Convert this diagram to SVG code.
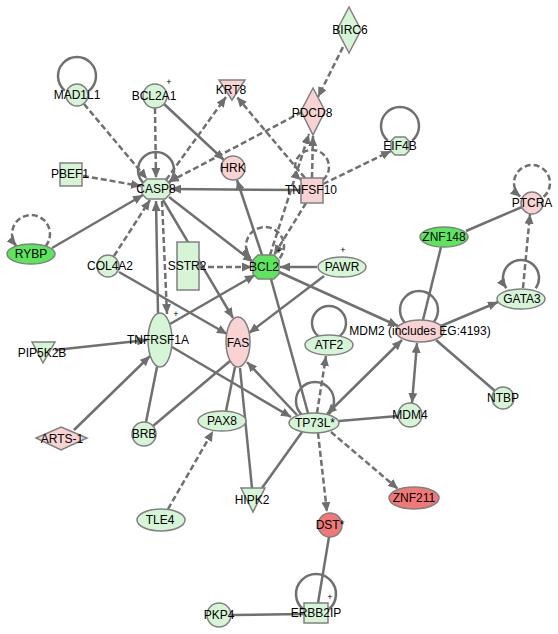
<svg xmlns="http://www.w3.org/2000/svg" width="558" height="634" viewBox="0 0 558 634">
<defs>
<marker id="a" markerUnits="userSpaceOnUse" markerWidth="10" markerHeight="9" refX="10" refY="4.5" orient="auto-start-reverse"><path d="M0,0 L10,4.5 L0,9 z" fill="#6e6e6e"/></marker>
</defs>
<style>
.e{stroke:#707070;stroke-width:2.5;fill:none}
.d{stroke-dasharray:6,3}
.lg{fill:#d6f5d6;stroke:#808080;stroke-width:1.5}
.bg{fill:#5ce65c;stroke:#808080;stroke-width:1.5}
.pk{fill:#f9d3d3;stroke:#808080;stroke-width:1.5}
.rd{fill:#f27878;stroke:#808080;stroke-width:1.5}
text{font-family:"Liberation Sans",Arial,sans-serif;font-size:12px;fill:#000;text-anchor:middle}
.p{font-size:9px}
</style>
<rect width="558" height="634" fill="#fff"/>
<g id="edges">
<line class="e d" x1="84" y1="104" x2="147" y2="179" marker-end="url(#a)"/>
<line class="e d" x1="155" y1="108" x2="156" y2="178" marker-end="url(#a)"/>
<line class="e" x1="164" y1="104" x2="224" y2="160" marker-end="url(#a)"/>
<line class="e d" x1="166" y1="180" x2="226" y2="97" marker-end="url(#a)"/>
<line class="e d" x1="305" y1="178" x2="237" y2="97" marker-end="url(#a)"/>
<line class="e d" x1="343" y1="47" x2="318" y2="97" marker-end="url(#a)"/>
<line class="e d" x1="302" y1="112" x2="169" y2="182" marker-end="url(#a)"/>
<line class="e d" x1="312" y1="178" x2="313" y2="136" marker-end="url(#a)"/>
<line class="e d" x1="270" y1="255" x2="309" y2="134" marker-end="url(#a)"/>
<line class="e d" x1="306" y1="203" x2="274" y2="255" marker-end="url(#a)"/>
<line class="e" x1="301" y1="190" x2="171" y2="189" marker-end="url(#a)"/>
<line class="e d" x1="323" y1="184" x2="391" y2="151" marker-end="url(#a)"/>
<line class="e d" x1="83" y1="176" x2="141" y2="186" marker-end="url(#a)"/>
<line class="e" x1="52" y1="248" x2="143" y2="195" marker-end="url(#a)"/>
<line class="e d" x1="114" y1="256" x2="150" y2="200" marker-end="url(#a)"/>
<line class="e" x1="158" y1="313" x2="156" y2="201" marker-end="url(#a)"/>
<line class="e d" x1="162" y1="201" x2="167" y2="314" marker-end="url(#a)"/>
<line class="e" x1="163" y1="200" x2="233" y2="318" marker-end="url(#a)"/>
<line class="e" x1="169" y1="197" x2="253" y2="262" marker-end="url(#a)"/>
<line class="e d" x1="199" y1="267" x2="252" y2="267" marker-end="url(#a)"/>
<line class="e" x1="262" y1="255" x2="237" y2="180" marker-end="url(#a)"/>
<line class="e" x1="317" y1="267" x2="280" y2="267" marker-end="url(#a)"/>
<line class="e" x1="324" y1="276" x2="249" y2="333" marker-end="url(#a)"/>
<line class="e" x1="279" y1="272" x2="398" y2="326" marker-end="url(#a)"/>
<line class="e" x1="271" y1="279" x2="308" y2="413"/>
<line class="e" x1="170" y1="324" x2="255" y2="275" marker-end="url(#a)"/>
<line class="e" x1="119" y1="272" x2="227" y2="334" marker-end="url(#a)"/>
<line class="e" x1="172" y1="347" x2="291" y2="417" marker-end="url(#a)"/>
<line class="e" x1="55" y1="350" x2="147" y2="340" marker-end="url(#a)"/>
<line class="e" x1="74" y1="430" x2="150" y2="356" marker-end="url(#a)"/>
<line class="e" x1="146" y1="422" x2="157" y2="367"/>
<line class="e" x1="153" y1="426" x2="230" y2="361"/>
<line class="e" x1="235" y1="367" x2="226" y2="411"/>
<line class="e" x1="240" y1="368" x2="252" y2="488"/>
<line class="e" x1="297" y1="415" x2="247" y2="362" marker-end="url(#a)"/>
<line class="e d" x1="168" y1="509" x2="213" y2="431" marker-end="url(#a)"/>
<line class="e d" x1="317" y1="413" x2="326" y2="356" marker-end="url(#a)"/>
<line class="e" x1="327" y1="414" x2="402" y2="340" marker-start="url(#a)" marker-end="url(#a)"/>
<line class="e" x1="339" y1="421" x2="398" y2="416"/>
<line class="e" x1="417" y1="343" x2="412" y2="403" marker-start="url(#a)" marker-end="url(#a)"/>
<line class="e" x1="436" y1="340" x2="495" y2="391"/>
<line class="e" x1="441" y1="326" x2="498" y2="302" marker-end="url(#a)"/>
<line class="e" x1="441" y1="247" x2="423" y2="320"/>
<line class="e" x1="466" y1="231" x2="522" y2="207"/>
<line class="e d" x1="523" y1="288" x2="530" y2="214" marker-end="url(#a)"/>
<line class="e" x1="302" y1="432" x2="262" y2="488"/>
<line class="e d" x1="318" y1="433" x2="327" y2="512" marker-end="url(#a)"/>
<line class="e d" x1="331" y1="432" x2="398" y2="489" marker-end="url(#a)"/>
<line class="e" x1="329" y1="537" x2="318" y2="603"/>
<line class="e" x1="304" y1="614" x2="231" y2="615"/>
<path class="e" d="M89.2,90.6 A19 19 0 1 0 64.8,90.6"/>
<path class="e" d="M167.6,183.8 A18 18 0 1 0 144.4,183.8"/>
<path class="e" d="M412.2,140.6 A19 19 0 1 0 387.8,140.6"/>
<path class="e d" d="M322.9,180 A17 17 0 1 0 301.1,180" marker-end="url(#a)"/>
<path class="e d" d="M45.6,246.2 A19 19 0 1 0 16.4,246.2" marker-end="url(#a)"/>
<path class="e d" d="M279.6,258.2 A19 19 0 1 0 250.4,258.2" marker-end="url(#a)"/>
<path class="e d" d="M543.6,196.8 A18 18 0 1 0 520.4,196.8" marker-end="url(#a)"/>
<path class="e" d="M535.7,288.3 A18 18 0 1 0 506.3,288.3" marker-end="url(#a)"/>
<path class="e" d="M431.2,324.6 A19 19 0 1 0 406.8,324.6"/>
<path class="e" d="M339.9,336 A17 17 0 1 0 318.1,336"/>
<path class="e" d="M327.2,415.6 A19 19 0 1 0 302.8,415.6"/>
<path class="e" d="M328.9,609.3 A20 20 0 1 0 303.1,609.3"/>
</g>
<g id="MAD1L1"><circle class="lg" cx="77" cy="95" r="11"/><text x="77" y="99">MAD1L1</text></g>
<g id="BCL2A1"><circle class="lg" cx="155" cy="96" r="12"/><text x="154" y="100">BCL2A1</text><text class="p" x="169" y="85">+</text></g>
<g id="KRT8"><polygon class="pk" points="219,80 245,80 232,100"/><text x="231" y="94">KRT8</text></g>
<g id="BIRC6"><polygon class="lg" points="349,7 361,30 349,53 337,30"/><text x="350" y="34">BIRC6</text></g>
<g id="PDCD8"><polygon class="pk" points="313,88 325,111 313,135 301,111"/><text x="312" y="117">PDCD8</text></g>
<g id="EIF4B"><polygon class="lg" points="395,137 405,137 409,141 409,151 405,155 395,155 391,151 391,141"/><text x="400" y="150">EIF4B</text></g>
<g id="PBEF1"><rect class="lg" x="60" y="163" width="22" height="23"/><text x="70" y="178">PBEF1</text></g>
<g id="CASP8"><polygon class="lg" points="147,179 165,179 170,184 170,194 165,199 147,199 142,194 142,184"/><text x="156" y="193">CASP8</text></g>
<g id="HRK"><circle class="pk" cx="233" cy="168" r="12"/><text x="233" y="172">HRK</text></g>
<g id="TNFSF10"><rect class="pk" x="301" y="178" width="22" height="25"/><text x="311" y="194">TNFSF10</text></g>
<g id="RYBP"><ellipse class="bg" cx="31" cy="254" rx="24" ry="10"/><text x="31" y="258">RYBP</text></g>
<g id="COL4A2"><circle class="lg" cx="108" cy="266" r="11"/><text x="110" y="270">COL4A2</text></g>
<g id="SSTR2"><rect class="lg" x="177" y="242" width="22" height="48"/><text x="187" y="270">SSTR2</text></g>
<g id="BCL2"><polygon class="bg" points="258,255 274,255 279,260 279,274 274,279 258,279 253,274 253,260"/><text x="264" y="271">BCL2</text><text class="p" x="279" y="254">+</text></g>
<g id="PAWR"><ellipse class="lg" cx="342" cy="267" rx="24" ry="10"/><text x="342" y="271">PAWR</text><text class="p" x="343" y="253">+</text></g>
<g id="ZNF148"><ellipse class="bg" cx="444" cy="237" rx="24" ry="10"/><text x="444" y="241">ZNF148</text></g>
<g id="PTCRA"><circle class="pk" cx="532" cy="203" r="11"/><text x="532" y="207">PTCRA</text></g>
<g id="GATA3"><ellipse class="lg" cx="521" cy="299" rx="24" ry="10"/><text x="522" y="303">GATA3</text></g>
<g id="MDM2"><ellipse class="pk" cx="420" cy="331" rx="24" ry="11"/><text x="420" y="335">MDM2 (includes EG:4193)</text></g>
<g id="TNFRSF1A"><ellipse class="lg" cx="160" cy="340" rx="12" ry="27"/><text x="158" y="344">TNFRSF1A</text><text class="p" x="176" y="317">+</text></g>
<g id="FAS"><ellipse class="pk" cx="238" cy="342" rx="12" ry="25"/><text x="238" y="347">FAS</text></g>
<g id="ATF2"><ellipse class="lg" cx="329" cy="345" rx="24" ry="10"/><text x="329" y="349">ATF2</text></g>
<g id="PIP5K2B"><polygon class="lg" points="32,342 55,342 43,363"/><text x="42" y="357">PIP5K2B</text></g>
<g id="ARTS-1"><polygon class="pk" points="61,427 87,438 61,450 36,438"/><text x="62" y="443">ARTS-1</text></g>
<g id="BRB"><circle class="lg" cx="144" cy="434" r="12"/><text x="144" y="438">BRB</text></g>
<g id="PAX8"><ellipse class="lg" cx="222" cy="421" rx="24" ry="10"/><text x="222" y="425">PAX8</text></g>
<g id="TP73L"><ellipse class="lg" cx="314" cy="423" rx="25" ry="10"/><text x="315" y="427">TP73L*</text></g>
<g id="MDM4"><circle class="lg" cx="410" cy="415" r="12"/><text x="410" y="419">MDM4</text></g>
<g id="NTBP"><circle class="lg" cx="503" cy="398" r="11"/><text x="503" y="402">NTBP</text></g>
<g id="TLE4"><ellipse class="lg" cx="161" cy="520" rx="24" ry="11"/><text x="160" y="524">TLE4</text></g>
<g id="HIPK2"><polygon class="lg" points="241,488 265,488 253,512"/><text x="252" y="504">HIPK2</text></g>
<g id="DST"><circle class="rd" cx="330" cy="525" r="12"/><text x="330" y="529">DST*</text></g>
<g id="ZNF211"><ellipse class="rd" cx="414" cy="498" rx="25" ry="11"/><text x="414" y="502">ZNF211</text></g>
<g id="ERBB2IP"><rect class="lg" x="304" y="603" width="24" height="20"/><text x="316" y="617">ERBB2IP</text><text class="p" x="330" y="600">+</text></g>
<g id="PKP4"><circle class="lg" cx="219" cy="615" r="12"/><text x="219" y="619">PKP4</text></g>
</svg>
